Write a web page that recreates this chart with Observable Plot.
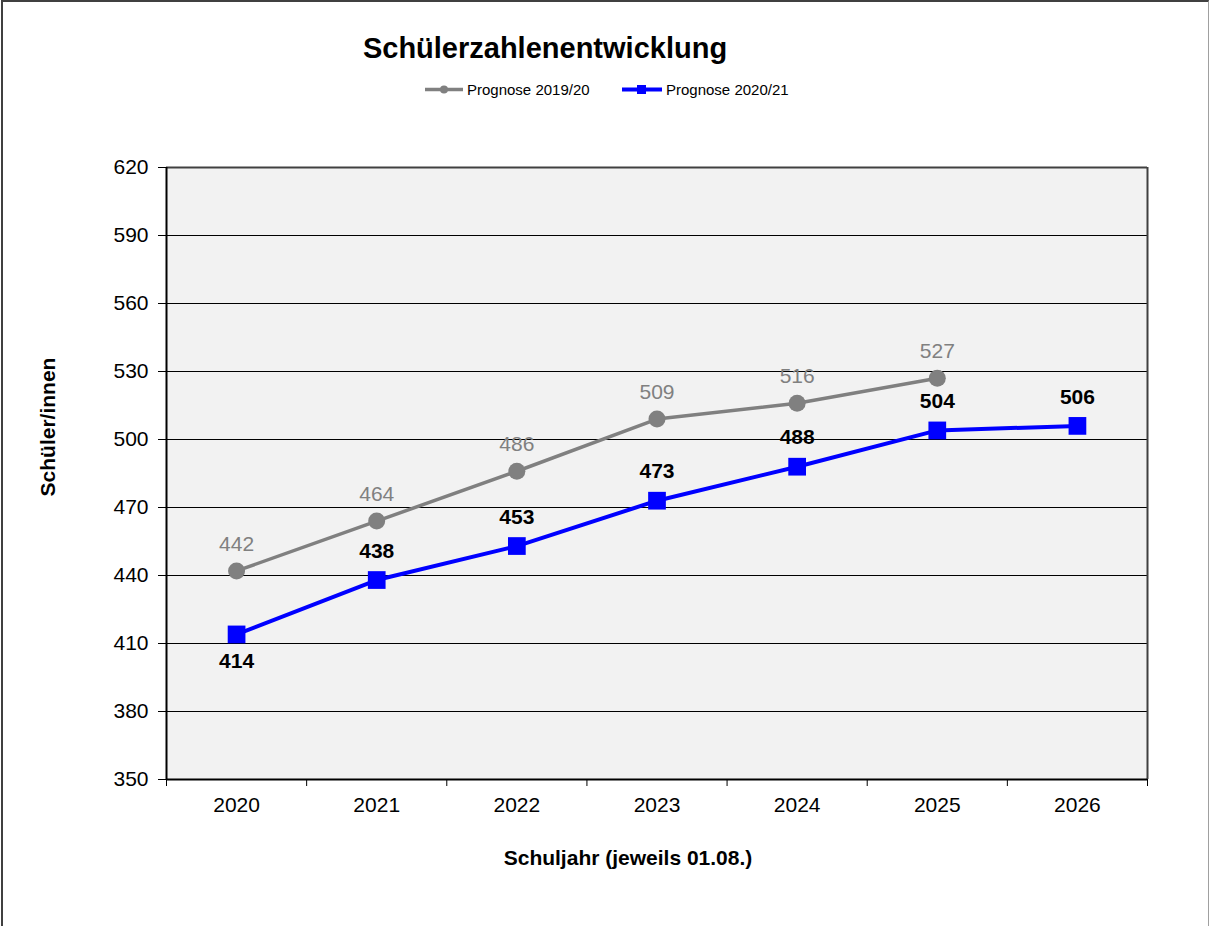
<!DOCTYPE html>
<html>
<head>
<meta charset="utf-8">
<script src="https://cdn.jsdelivr.net/npm/d3@7"></script>
<script src="https://cdn.jsdelivr.net/npm/@observablehq/plot@0.6"></script>
<style>
  html, body { margin: 0; padding: 0; background: #fff; }
  #wrap { position: relative; width: 1210px; height: 926px; overflow: hidden; font-family: Arial, "Liberation Sans", sans-serif; }
  #border { position: absolute; left: 1px; top: 0px; width: 1205px; height: 960px; border-left: 2px solid #404040; border-top: 2px solid #404040; border-right: 1px solid #a0a0a0; }
  #chart { position: absolute; left: 0; top: 0; }
  .title { position: absolute; left: 545px; top: 48px; transform: translate(-50%, -50%); font-weight: bold; font-size: 29px; white-space: nowrap; color: #000; }
  .legend { position: absolute; top: 89px; transform: translateY(-50%); font-size: 15px; white-space: nowrap; display: flex; align-items: center; color: #000; }
  .legend svg { display: block; margin-right: 2px; }
  .ylabel { position: absolute; left: 48px; top: 427px; transform: translate(-50%, -50%) rotate(-90deg); font-weight: bold; font-size: 21px; white-space: nowrap; }
  .xlabel { position: absolute; left: 628px; top: 858px; transform: translate(-50%, -50%); font-weight: bold; font-size: 21px; white-space: nowrap; }
</style>
</head>
<body>
<div id="wrap">
  <div id="border"></div>
  <div id="chart"></div>
  <div class="title">Schülerzahlenentwicklung</div>
  <div class="legend" style="left:425px">
    <svg width="40" height="12"><line x1="0" y1="6" x2="38" y2="6" stroke="#808080" stroke-width="3.5"/><circle cx="19" cy="6" r="4" fill="#808080"/></svg>Prognose 2019/20
  </div>
  <div class="legend" style="left:622px">
    <svg width="42" height="12"><line x1="0" y1="6" x2="40" y2="6" stroke="#0000ff" stroke-width="4"/><rect x="15" y="1.5" width="9" height="9" fill="#0000ff"/></svg>Prognose 2020/21
  </div>
  <div class="ylabel">Schüler/innen</div>
  <div class="xlabel">Schuljahr (jeweils 01.08.)</div>
</div>
<script>
const years = [2020, 2021, 2022, 2023, 2024, 2025, 2026];
const prognose1920 = [442, 464, 486, 509, 516, 527];
const prognose2021 = [414, 438, 453, 473, 488, 504, 506];
const yTicks = [350, 380, 410, 440, 470, 500, 530, 560, 590, 620];

const gray = prognose1920.map((v, i) => ({year: years[i], value: v}));
const blue = prognose2021.map((v, i) => ({year: years[i], value: v}));
const boundaries = [years[0] - 0.5, ...years.map(y => y + 0.5)];
const xMin = years[0] - 0.5, xMax = years[years.length - 1] + 0.5;
const yMin = yTicks[0], yMax = yTicks[yTicks.length - 1];

const chart = Plot.plot({
  width: 1210,
  height: 926,
  marginTop: 167,
  marginBottom: 147,
  marginLeft: 166,
  marginRight: 63,
  style: {fontFamily: "Arial, 'Liberation Sans', sans-serif", fontSize: "21px", color: "#000", background: "transparent"},
  x: {domain: [xMin, xMax], ticks: years, tickSize: 0, tickPadding: 18, tickFormat: "d", label: null},
  y: {domain: [yMin, yMax], ticks: yTicks, tickSize: 8, tickPadding: 10, label: null},
  marks: [
    Plot.frame({fill: "#f2f2f2", stroke: null}),
    Plot.ruleY(yTicks.slice(1, -1), {stroke: "#000", strokeWidth: 1}),
    Plot.ruleY([yMax], {stroke: "#404040", strokeWidth: 2}),
    Plot.ruleX([xMax], {stroke: "#404040", strokeWidth: 2}),
    Plot.ruleX(boundaries, {y1: yMin, y2: yMin, insetBottom: -7, stroke: "#000", strokeWidth: 1}),
    Plot.ruleX([xMin], {stroke: "#000", strokeWidth: 2}),
    Plot.ruleY([yMin], {stroke: "#000", strokeWidth: 2}),
    Plot.line(gray, {x: "year", y: "value", stroke: "#808080", strokeWidth: 3.5}),
    Plot.dot(gray, {x: "year", y: "value", r: 8.5, fill: "#808080", stroke: null}),
    Plot.line(blue, {x: "year", y: "value", stroke: "#0000ff", strokeWidth: 4}),
    Plot.dot(blue, {x: "year", y: "value", symbol: "square", r: 10, fill: "#0000ff", stroke: null}),
    Plot.text(gray, {x: "year", y: "value", text: d => String(d.value), dy: -27, fill: "#808080", fontSize: 21}),
    Plot.text(blue, {filter: (d, i) => i > 0, x: "year", y: "value", text: d => String(d.value), dy: -29, fill: "#000", fontSize: 21, fontWeight: "bold"}),
    Plot.text(blue, {filter: (d, i) => i === 0, x: "year", y: "value", text: d => String(d.value), dy: 27, fill: "#000", fontSize: 21, fontWeight: "bold"})
  ]
});
document.getElementById("chart").appendChild(chart);
</script>
</body>
</html>
